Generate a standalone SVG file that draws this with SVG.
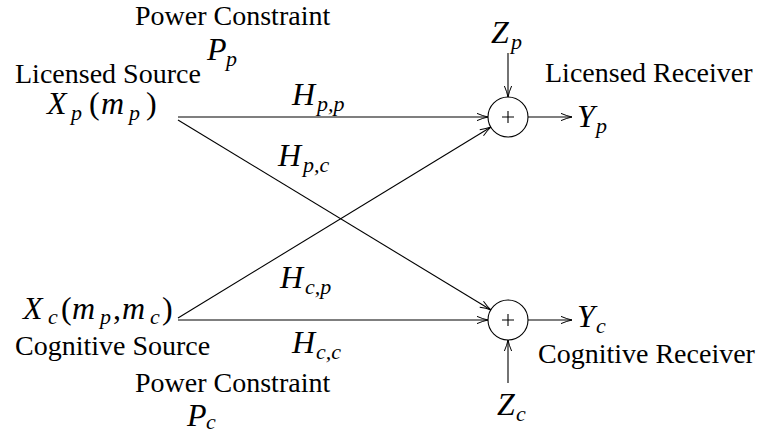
<svg xmlns="http://www.w3.org/2000/svg" width="763" height="434" viewBox="0 0 763 434">
<style>
text{font-family:"Liberation Serif","Times New Roman",serif;fill:#000}
.t{font-size:28px}
.m{font-size:32px;font-style:italic}
.s{font-size:22px}
.r{font-style:normal}
.ln{stroke:#000;stroke-width:1.1;fill:none}
</style>
<defs>
<marker id="ah" markerUnits="userSpaceOnUse" markerWidth="14" markerHeight="10" viewBox="-12 -5 14 10" refX="0" refY="0" orient="auto">
<path d="M-11,-3.6 Q-5,-1 0,0 Q-5,1 -11,3.6" fill="none" stroke="#000" stroke-width="1"/>
</marker>
</defs>
<rect width="763" height="434" fill="#fff"/>

<g id="licensed-source">
<text class="t" x="135" y="25">Power Constraint</text>
<text class="m" y="60"><tspan x="207">P</tspan><tspan class="s" x="226" dy="6">p</tspan></text>
<text class="t" x="15" y="83">Licensed Source</text>
<text class="m" y="114"><tspan x="47">X</tspan><tspan class="s" x="71" dy="6">p</tspan><tspan class="r" x="89" dy="-6">(</tspan><tspan x="101">m</tspan><tspan class="s" x="129" dy="6">p</tspan><tspan class="r" x="146" dy="-6">)</tspan></text>
</g>

<g id="cognitive-source">
<text class="m" y="319"><tspan x="23">X</tspan><tspan class="s" x="48" dy="5">c</tspan><tspan class="r" x="61" dy="-5">(</tspan><tspan x="72">m</tspan><tspan class="s" x="100" dy="5">p</tspan><tspan class="r" x="113" dy="-5">,</tspan><tspan x="122">m</tspan><tspan class="s" x="150" dy="5">c</tspan><tspan class="r" x="162" dy="-5">)</tspan></text>
<text class="t" x="15" y="355">Cognitive Source</text>
<text class="t" x="135" y="392">Power Constraint</text>
<text class="m" y="426"><tspan x="187">P</tspan><tspan class="s" x="206" dy="3">c</tspan></text>
</g>

<g id="licensed-receiver">
<circle class="ln" cx="508" cy="117" r="20"/>
<path class="ln" d="M502,117H514M508,111V123"/>
<text class="t" x="545" y="82">Licensed Receiver</text>
</g>

<g id="cognitive-receiver">
<circle class="ln" cx="508" cy="320" r="20"/>
<path class="ln" d="M502,320H514M508,314V326"/>
<text class="t" x="538" y="363">Cognitive Receiver</text>
</g>

<g id="noise-zp">
<text class="m" y="43"><tspan x="491">Z</tspan><tspan class="s" x="511" dy="6">p</tspan></text>
</g>
<g id="noise-zc">
<text class="m" y="415"><tspan x="497">Z</tspan><tspan class="s" x="516" dy="6">c</tspan></text>
</g>
<g id="output-yp">
<text class="m" y="127"><tspan x="577">Y</tspan><tspan class="s" x="596" dy="6">p</tspan></text>
</g>
<g id="output-yc">
<text class="m" y="327"><tspan x="577">Y</tspan><tspan class="s" x="596" dy="6">c</tspan></text>
</g>

<g id="connectors">
<line class="ln" x1="178" y1="117" x2="488" y2="117" marker-end="url(#ah)"/>
<line class="ln" x1="178" y1="120" x2="491" y2="310" marker-end="url(#ah)"/>
<line class="ln" x1="178" y1="320" x2="488" y2="320" marker-end="url(#ah)"/>
<line class="ln" x1="178" y1="318" x2="491" y2="127" marker-end="url(#ah)"/>
<line class="ln" x1="508" y1="53" x2="508" y2="97" marker-end="url(#ah)"/>
<line class="ln" x1="508" y1="383" x2="508" y2="340" marker-end="url(#ah)"/>
<line class="ln" x1="528" y1="117" x2="572" y2="117" marker-end="url(#ah)"/>
<line class="ln" x1="528" y1="320" x2="572" y2="320" marker-end="url(#ah)"/>
<text class="m" y="105"><tspan x="292">H</tspan><tspan class="s" x="317" dy="6">p,p</tspan></text>
<text class="m" y="166"><tspan x="278">H</tspan><tspan class="s" x="303" dy="6">p,c</tspan></text>
<text class="m" y="288"><tspan x="280">H</tspan><tspan class="s" x="305" dy="6">c,p</tspan></text>
<text class="m" y="353"><tspan x="292">H</tspan><tspan class="s" x="316" dy="6">c,c</tspan></text>
</g>
</svg>
